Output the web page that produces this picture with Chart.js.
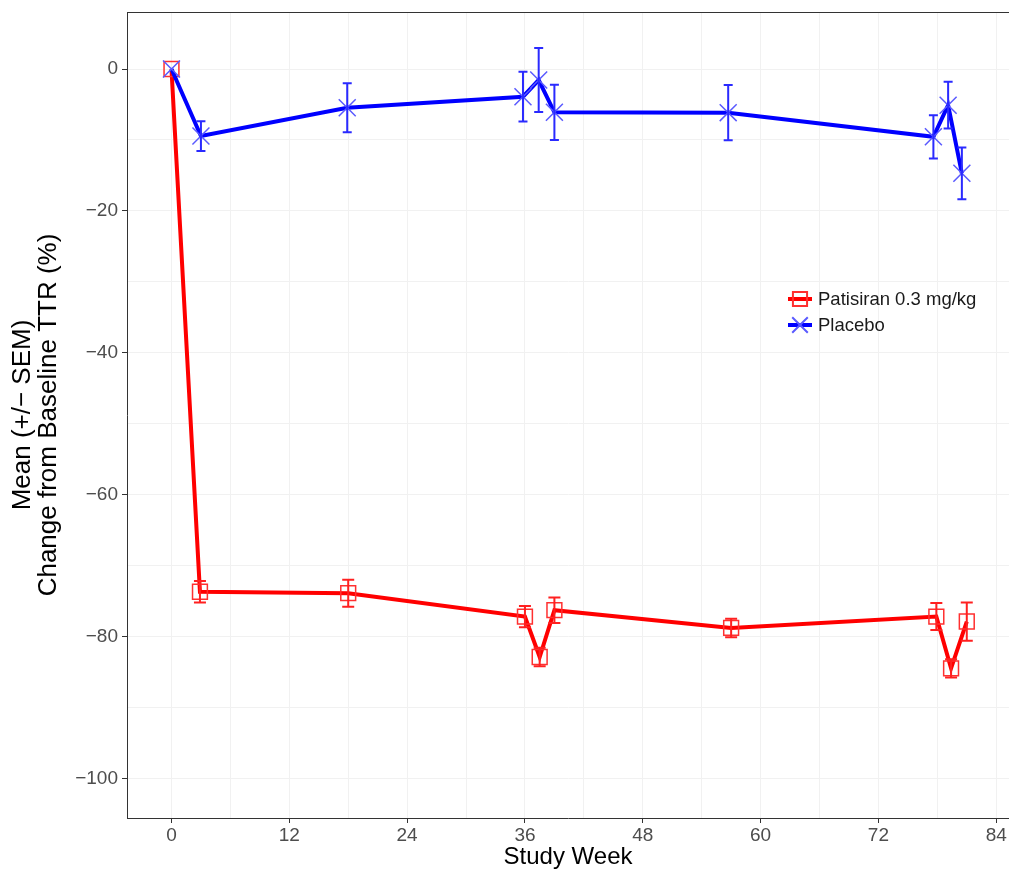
<!DOCTYPE html>
<html>
<head>
<meta charset="utf-8">
<title>Change from Baseline TTR</title>
<script src="https://cdn.jsdelivr.net/npm/chart.js@4/dist/chart.umd.min.js"></script>
<style>
  html, body { margin: 0; padding: 0; background: #fff; }
  #wrap { width: 1009px; height: 869px; }
</style>
</head>
<body>
<div id="wrap"><canvas id="ttr-chart" width="1009" height="869"></canvas></div>
<script>
// Study weeks (slightly dodged per group, as in the figure)
const weeksPatisiran = [0, 2.9, 18, 36, 37.5, 39, 57, 77.9, 79.4, 81];
const weeksPlacebo = [0, 3.0, 17.9, 35.8, 37.4, 39, 56.7, 77.6, 79.1, 80.5];

// Mean % change from baseline TTR
const patisiranMean = [0, -73.7, -73.9, -77.2, -82.9, -76.3, -78.8, -77.2, -84.5, -77.9];
const placeboMean = [0, -9.45, -5.45, -3.9, -1.55, -6.1, -6.15, -9.55, -5.1, -14.7];

// SEM (half-length of the error bars)
const patisiranSem = [0, 1.5, 1.9, 1.5, 1.3, 1.8, 1.3, 1.9, 1.3, 2.7];
const placeboSem = [0, 2.1, 3.45, 3.5, 4.5, 3.9, 3.9, 3.05, 3.3, 3.65];

// Axis ticks: labelled ones and the faint minor grid in between
const xTickLabels = [0, 12, 24, 36, 48, 60, 72, 84];
const xGridWeeks = [0, 6, 12, 18, 24, 30, 36, 42, 48, 54, 60, 66, 72, 78, 84];
const yTickLabels = [0, -20, -40, -60, -80, -100];
const yGridValues = [0, -10, -20, -30, -40, -50, -60, -70, -80, -90, -100];

const FONT = "'Liberation Sans', Arial, sans-serif";

const toPoints = (xs, ys) => xs.map((x, i) => ({ x: x, y: ys[i] }));
const minus = (v) => (v < 0 ? "\u2212" + Math.abs(v) : String(v));

// Vertical error bars with caps, drawn through the chart's own scales
const errorBars = {
  id: "errorBars",
  afterDatasetsDraw(chart) {
    const ctx = chart.ctx;
    const xs = chart.scales.x;
    const ys = chart.scales.y;
    chart.data.datasets.forEach((ds) => {
      ctx.save();
      ctx.strokeStyle = ds.errorColor;
      ctx.lineWidth = 2;
      ds.data.forEach((p, i) => {
        const sem = ds.sem[i];
        if (!sem) return;
        const x = xs.getPixelForValue(p.x);
        const yTop = ys.getPixelForValue(p.y + sem);
        const yBot = ys.getPixelForValue(p.y - sem);
        const cap = ds.capHalf;
        ctx.beginPath();
        ctx.moveTo(x, yTop);
        ctx.lineTo(x, yBot);
        ctx.moveTo(x - cap, yTop);
        ctx.lineTo(x + cap, yTop);
        ctx.moveTo(x - cap, yBot);
        ctx.lineTo(x + cap, yBot);
        ctx.stroke();
      });
      ctx.restore();
    });
  },
};

// Top frame line and the legend inside the panel
const frameAndLegend = {
  id: "frameAndLegend",
  afterDraw(chart) {
    const ctx = chart.ctx;
    const area = chart.chartArea;
    ctx.save();
    ctx.strokeStyle = "#333";
    ctx.lineWidth = 1;
    ctx.beginPath();
    ctx.moveTo(area.left, area.top + 0.5);
    ctx.lineTo(area.right, area.top + 0.5);
    ctx.stroke();

    const lx = 800;
    let ly = 299;
    chart.data.datasets.forEach((ds) => {
      ctx.strokeStyle = ds.borderColor;
      ctx.lineWidth = 4;
      ctx.beginPath();
      ctx.moveTo(lx - 12, ly);
      ctx.lineTo(lx + 12, ly);
      ctx.stroke();
      ctx.strokeStyle = ds.pointBorderColor;
      ctx.fillStyle = "rgba(0,0,0,0)";
      ctx.lineWidth = 2;
      Chart.helpers.drawPoint(ctx, {
        pointStyle: ds.pointStyle,
        radius: ds.pointStyle === "rect" ? 10 : 11,
        borderWidth: 2,
        rotation: 0,
      }, lx, ly);
      ctx.fillStyle = "#1a1a1a";
      ctx.font = "18.5px " + FONT;
      ctx.textAlign = "left";
      ctx.textBaseline = "middle";
      ctx.fillText(ds.label, lx + 18, ly + 1);
      ly += 26;
    });
    ctx.restore();
  },
};

const ctx = document.getElementById("ttr-chart").getContext("2d");

new Chart(ctx, {
  type: "scatter",
  data: {
    datasets: [
      {
        label: "Patisiran 0.3 mg/kg",
        data: toPoints(weeksPatisiran, patisiranMean),
        sem: patisiranSem,
        errorColor: "#ff2020",
        capHalf: 6,
        showLine: true,
        borderColor: "#ff0000",
        borderWidth: 4,
        pointStyle: "rect",
        pointRadius: 10.5,
        pointBorderWidth: 1.5,
        pointBorderColor: "#ff3030",
        pointBackgroundColor: "rgba(0,0,0,0)",
        tension: 0,
        order: 2,
      },
      {
        label: "Placebo",
        data: toPoints(weeksPlacebo, placeboMean),
        sem: placeboSem,
        errorColor: "#2a2aff",
        capHalf: 4.5,
        showLine: true,
        borderColor: "#0000ff",
        borderWidth: 4,
        pointStyle: "crossRot",
        pointRadius: 12,
        pointBorderWidth: 1.5,
        pointBorderColor: "#5a5aff",
        pointBackgroundColor: "rgba(0,0,0,0)",
        tension: 0,
        order: 1,
      },
    ],
  },
  options: {
    responsive: false,
    animation: false,
    devicePixelRatio: 1,
    layout: { autoPadding: false, padding: { top: 12, left: 0, right: 0, bottom: 0 } },
    plugins: {
      legend: { display: false },
      tooltip: { enabled: false },
    },
    scales: {
      x: {
        type: "linear",
        min: -4.53,
        max: 85.3,
        afterFit: (scale) => {
          scale.height = 51;
          scale.paddingLeft = 0;
          scale.paddingRight = 0;
        },
        afterBuildTicks: (scale) => {
          scale.ticks = xGridWeeks.map((v) => ({ value: v }));
        },
        ticks: {
          autoSkip: false,
          maxRotation: 0,
          padding: 1,
          color: "#4d4d4d",
          font: { family: FONT, size: 19 },
          callback: (v) => (xTickLabels.includes(v) ? String(v) : ""),
        },
        grid: {
          color: "#f1f1f1",
          lineWidth: 1,
          tickLength: 5,
          tickColor: (c) => (c.tick && xTickLabels.includes(c.tick.value) ? "#333" : "rgba(0,0,0,0)"),
        },
        border: { color: "#333", width: 1 },
        title: {
          display: true,
          text: "Study Week",
          color: "#000",
          font: { family: FONT, size: 24 },
          padding: { top: 0, bottom: -3 },
        },
      },
      y: {
        type: "linear",
        min: -105.6,
        max: 8.04,
        afterFit: (scale) => {
          scale.width = 127;
          scale.paddingTop = 0;
          scale.paddingBottom = 0;
        },
        afterBuildTicks: (scale) => {
          scale.ticks = yGridValues.slice().reverse().map((v) => ({ value: v }));
        },
        ticks: {
          autoSkip: false,
          padding: 4,
          color: "#4d4d4d",
          font: { family: FONT, size: 19 },
          callback: (v) => (yTickLabels.includes(v) ? minus(v) : ""),
        },
        grid: {
          color: "#f1f1f1",
          lineWidth: 1,
          tickLength: 5,
          tickColor: (c) => (c.tick && yTickLabels.includes(c.tick.value) ? "#333" : "rgba(0,0,0,0)"),
        },
        border: { color: "#333", width: 1 },
        title: {
          display: true,
          text: ["Mean (+/\u2212 SEM)", "Change from Baseline TTR (%)"],
          color: "#000",
          font: { family: FONT, size: 26, lineHeight: 1.0 },
          padding: { top: 10, bottom: 0 },
        },
      },
    },
  },
  plugins: [errorBars, frameAndLegend],
});
</script>
</body>
</html>
